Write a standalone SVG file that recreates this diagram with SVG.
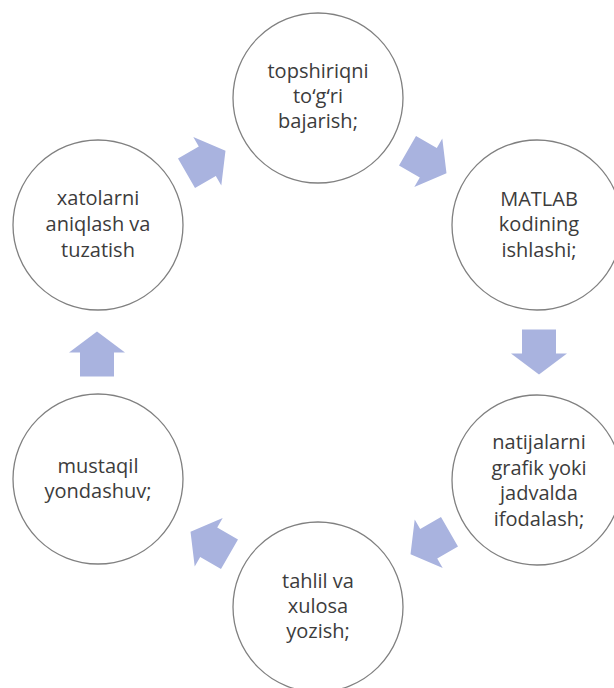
<svg xmlns="http://www.w3.org/2000/svg" width="614" height="688" viewBox="0 0 614 688">
  <style>
    .node circle { fill: #ffffff; stroke: #808080; stroke-width: 1.3; }
    .node text { font-family: "Open Sans", "Liberation Sans", sans-serif; font-size: 20px; fill: #3c3c3c; text-anchor: middle; }
    .arrow { fill: #a9b3df; }
  </style>
  <defs>
    <polygon id="blockArrow" points="-22.5,-17 1.5,-17 1.5,-28 22.5,0 1.5,28 1.5,17 -22.5,17"/>
  </defs>
  <rect width="614" height="688" fill="#ffffff"/>

  <g id="connectors">
    <use href="#blockArrow" class="arrow" transform="translate(206,162) rotate(-30)"/>
    <use href="#blockArrow" class="arrow" transform="translate(427,162) rotate(30)"/>
    <use href="#blockArrow" class="arrow" transform="translate(539,352) rotate(90)"/>
    <use href="#blockArrow" class="arrow" transform="translate(430,543) rotate(150)"/>
    <use href="#blockArrow" class="arrow" transform="translate(210,543) rotate(210)"/>
    <use href="#blockArrow" class="arrow" transform="translate(97,354) rotate(-90)"/>
  </g>

  <g id="node-topshiriqni" class="node">
    <circle cx="318" cy="98" r="85"/>
    <text x="318" y="78">topshiriqni</text>
    <text x="318" y="103">to‘g‘ri</text>
    <text x="318" y="128">bajarish;</text>
  </g>

  <g id="node-matlab" class="node">
    <circle cx="537" cy="225" r="85"/>
    <text x="539" y="206">MATLAB</text>
    <text x="539" y="231">kodining</text>
    <text x="539" y="257">ishlashi;</text>
  </g>

  <g id="node-natijalarni" class="node">
    <circle cx="537" cy="480" r="85"/>
    <text x="539" y="449">natijalarni</text>
    <text x="539" y="474.5">grafik yoki</text>
    <text x="539" y="500">jadvalda</text>
    <text x="539" y="525.5">ifodalash;</text>
  </g>

  <g id="node-tahlil" class="node">
    <circle cx="318" cy="607" r="85"/>
    <text x="318" y="588">tahlil va</text>
    <text x="318" y="613">xulosa</text>
    <text x="318" y="638">yozish;</text>
  </g>

  <g id="node-mustaqil" class="node">
    <circle cx="98" cy="479" r="85"/>
    <text x="98" y="473">mustaqil</text>
    <text x="98" y="498">yondashuv;</text>
  </g>

  <g id="node-xatolarni" class="node">
    <circle cx="98" cy="225" r="85"/>
    <text x="98" y="205">xatolarni</text>
    <text x="98" y="231">aniqlash va</text>
    <text x="98" y="257">tuzatish</text>
  </g>
</svg>
